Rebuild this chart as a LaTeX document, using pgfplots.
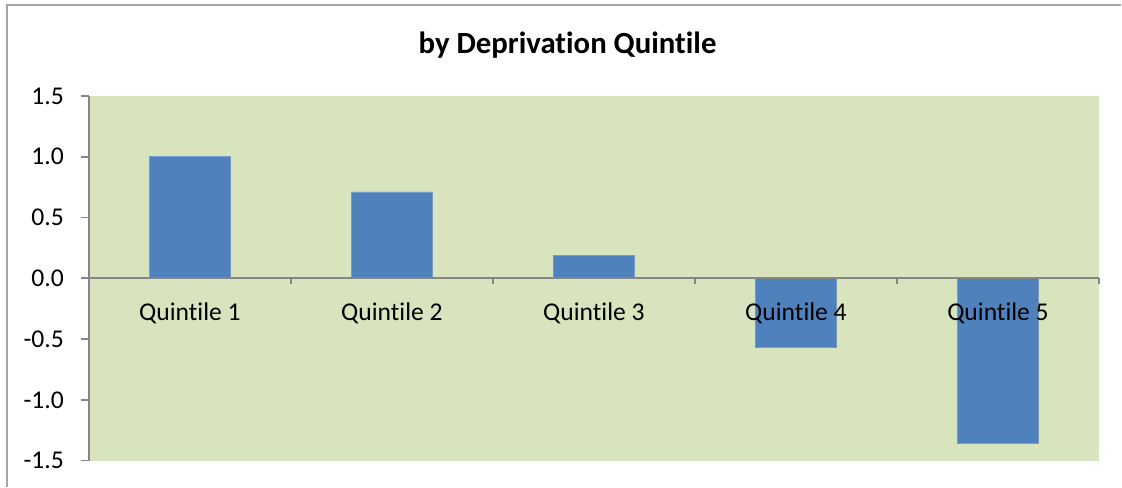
\documentclass[border=0pt]{standalone}
\usepackage{pgfplots}
\pgfplotsset{compat=1.18}
\usepackage{fontspec}
\setmainfont{Carlito}[Ligatures=NoCommon]
\definecolor{plotbg}{HTML}{D7E4BD}
\definecolor{barblue}{HTML}{4F81BD}
\definecolor{axgray}{HTML}{868686}
\definecolor{framegray}{HTML}{A6A6A6}
\begin{document}
\begin{tikzpicture}
\begin{axis}[
  at={(0,0)}, anchor=south west,
  scale only axis,
  width=505.5pt, height=182.5pt,
  xmin=0.5, xmax=5.5, ymin=-1.5, ymax=1.5,
  axis x line=middle, axis y line=left,
  axis line style={-, draw=axgray, line width=0.9pt},
  axis background/.style={fill=plotbg},
  xtick={1,2,3,4,5},
  xticklabels={Quintile 1,Quintile 2,Quintile 3,Quintile 4,Quintile 5},
  x tick style={draw=none},
  xticklabel style={font=\fontsize{12.8}{15}\selectfont, yshift=-4.5pt, text=black},
  ytick={-1.5,-1,-0.5,0,0.5,1,1.5},
  y tick style={draw=axgray, line width=0.9pt},
  tick align=outside,
  major tick length=4pt,
  yticklabel style={font=\fontsize{12.8}{15}\selectfont, text=black, xshift=-5pt},
  /pgf/number format/assume math mode=true,
  /pgf/number format/.cd, fixed, fixed zerofill, precision=1,
  /pgfplots/.cd,
  axis on top,
  clip=false,
]
\addplot[ybar, bar width=40.5pt, bar shift=0pt, fill=barblue, draw=barblue!80!white] coordinates {
  (1,1.00) (2,0.71) (3,0.19) (4,-0.57) (5,-1.36)
};
\pgfplotsinvokeforeach{0.5,1.5,2.5,3.5,4.5,5.5}{
  \draw[axgray, line width=0.9pt] (axis cs:#1,0) -- ([yshift=-3pt]axis cs:#1,0);
}
\end{axis}
\node[font=\fontsize{15.4}{18}\selectfont\bfseries, anchor=base] at (239.5pt,203.5pt) {by Deprivation Quintile};
\draw[framegray, line width=1pt] (-41pt,-13pt) -- (-41pt,228pt) -- (516.5pt,228pt);
\path[use as bounding box] (-44.5pt,-13pt) rectangle (516.5pt,230.5pt);
\end{tikzpicture}
\end{document}
